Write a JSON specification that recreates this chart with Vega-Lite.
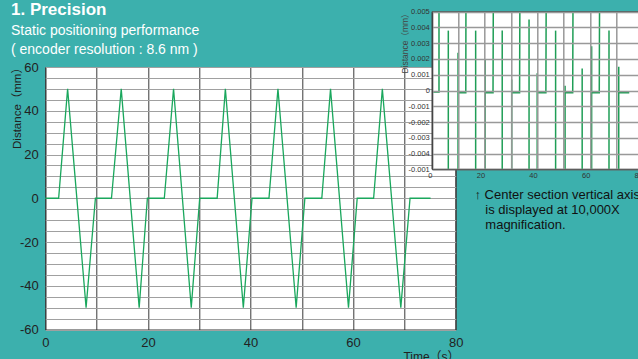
{
  "$schema": "https://vega.github.io/schema/vega-lite/v6.json",
  "width": 410.4,
  "height": 262.5,
  "autosize": "none",
  "padding": {"left": 45.3, "top": 67, "right": 182.3, "bottom": 29.5},
  "background": "#3cb0ad",
  "config": {
    "view": {"fill": "white", "stroke": "#333", "strokeWidth": 1},
    "font": "Liberation Sans, Noto Sans CJK JP, sans-serif"
  },
  "title": {
    "text": "1. Precision",
    "subtitle": ["Static positioning performance", "( encoder resolution : 8.6 nm )"],
    "anchor": "start",
    "frame": "group",
    "dx": -34.3,
    "dy": 50,
    "fontSize": 17,
    "fontWeight": "bold",
    "color": "white",
    "subtitleColor": "white",
    "subtitleFontSize": 14,
    "subtitleLineHeight": 18.5,
    "subtitlePadding": 5,
    "offset": 0
  },
  "datasets": {
    "main": [
      {"t": 0, "d": 0}, {"t": 2.6, "d": 0}, {"t": 4.35, "d": 50}, {"t": 7.95, "d": -50}, {"t": 9.77, "d": 0},
      {"t": 12.9, "d": 0}, {"t": 14.8, "d": 50}, {"t": 18.3, "d": -50}, {"t": 19.9, "d": 0},
      {"t": 23.2, "d": 0}, {"t": 25.0, "d": 50}, {"t": 28.45, "d": -50}, {"t": 30.1, "d": 0},
      {"t": 33.5, "d": 0}, {"t": 35.1, "d": 50}, {"t": 38.6, "d": -50}, {"t": 40.3, "d": 0},
      {"t": 43.6, "d": 0}, {"t": 45.35, "d": 50}, {"t": 48.9, "d": -50}, {"t": 50.6, "d": 0},
      {"t": 53.9, "d": 0}, {"t": 55.6, "d": 50}, {"t": 59.1, "d": -50}, {"t": 60.8, "d": 0},
      {"t": 64.0, "d": 0}, {"t": 65.7, "d": 50}, {"t": 69.3, "d": -50}, {"t": 71.1, "d": 0},
      {"t": 75.1, "d": 0}
    ],
    "inset": [
      {"i": 1, "seg": "a", "t": 0, "v": -0.0001}, {"i": 2, "seg": "a", "t": 2.66, "v": -0.0001}, {"i": 3, "seg": "a", "t": 2.66, "v": 0.005},
      {"i": 4, "seg": "b", "t": 6.2, "v": 0.0038}, {"i": 5, "seg": "b", "t": 6.2, "v": -0.005},
      {"i": 6, "seg": "c", "t": 9.9, "v": -0.005}, {"i": 7, "seg": "c", "t": 9.9, "v": 0.0024}, {"i": 8, "seg": "c", "t": 9.9, "v": -0.00015}, {"i": 9, "seg": "c", "t": 12.85, "v": -0.00015}, {"i": 10, "seg": "c", "t": 12.9, "v": 0.005},
      {"i": 11, "seg": "d", "t": 16.6, "v": 0.0038}, {"i": 12, "seg": "d", "t": 16.6, "v": -0.005},
      {"i": 13, "seg": "e", "t": 20.2, "v": -0.005}, {"i": 14, "seg": "e", "t": 20.2, "v": 0.002}, {"i": 15, "seg": "e", "t": 20.2, "v": -0.00015}, {"i": 16, "seg": "e", "t": 23.2, "v": -0.00015}, {"i": 17, "seg": "e", "t": 23.3, "v": 0.005},
      {"i": 18, "seg": "f", "t": 26.7, "v": 0.0038}, {"i": 19, "seg": "f", "t": 26.7, "v": -0.005},
      {"i": 20, "seg": "g", "t": 30.3, "v": -0.005}, {"i": 21, "seg": "g", "t": 30.3, "v": 0.0007}, {"i": 22, "seg": "g", "t": 30.3, "v": -0.00015}, {"i": 23, "seg": "g", "t": 33.3, "v": -0.00015}, {"i": 24, "seg": "g", "t": 33.4, "v": 0.005},
      {"i": 25, "seg": "h", "t": 36.9, "v": 0.0045}, {"i": 26, "seg": "h", "t": 36.9, "v": -0.005},
      {"i": 27, "seg": "i", "t": 40.0, "v": -0.005}, {"i": 28, "seg": "i", "t": 40.0, "v": 0.0011}, {"i": 29, "seg": "i", "t": 40.0, "v": -0.00015}, {"i": 30, "seg": "i", "t": 43.3, "v": -0.00015}, {"i": 31, "seg": "i", "t": 43.4, "v": 0.005},
      {"i": 32, "seg": "j", "t": 47.0, "v": 0.0038}, {"i": 33, "seg": "j", "t": 47.0, "v": -0.005},
      {"i": 34, "seg": "k", "t": 50.6, "v": -0.005}, {"i": 35, "seg": "k", "t": 50.6, "v": 0.0003}, {"i": 36, "seg": "k", "t": 50.6, "v": -0.00015}, {"i": 37, "seg": "k", "t": 53.5, "v": -0.00015}, {"i": 38, "seg": "k", "t": 53.6, "v": 0.005},
      {"i": 39, "seg": "l", "t": 57.1, "v": 0.0014}, {"i": 40, "seg": "l", "t": 57.1, "v": -0.005},
      {"i": 41, "seg": "m", "t": 60.7, "v": -0.005}, {"i": 42, "seg": "m", "t": 60.7, "v": 0.0028}, {"i": 43, "seg": "m", "t": 60.7, "v": -0.00015}, {"i": 44, "seg": "m", "t": 63.6, "v": -0.00015}, {"i": 45, "seg": "m", "t": 63.7, "v": 0.005},
      {"i": 46, "seg": "n", "t": 67.3, "v": 0.0038}, {"i": 47, "seg": "n", "t": 67.3, "v": -0.005},
      {"i": 48, "seg": "o", "t": 71.0, "v": -0.005}, {"i": 49, "seg": "o", "t": 71.0, "v": 0.0015}, {"i": 50, "seg": "o", "t": 71.0, "v": -0.00015}, {"i": 51, "seg": "o", "t": 75.0, "v": -0.00015}
    ]
  },
  "layer": [
    {
      "data": {"name": "main"},
      "mark": {"type": "line", "color": "#1aa75d", "strokeWidth": 1.3},
      "encoding": {
        "x": {
          "field": "t", "type": "quantitative",
          "scale": {"domain": [0, 80], "range": [0, 410.4], "nice": false, "zero": false},
          "axis": {
            "orient": "bottom",
            "values": [0, 10, 20, 30, 40, 50, 60, 70, 80],
            "labelExpr": "datum.value % 20 == 0 ? datum.label : ''",
            "labelFlush": false, "labelOverlap": false,
            "grid": true, "gridColor": "#3a3a3a", "gridOpacity": 1, "gridWidth": 1,
            "domain": false, "ticks": false,
            "labelFontSize": 13, "labelColor": "#222", "labelPadding": 7,
            "title": "Time（s）", "titleX": 385.7, "titleY": 31,
            "titleBaseline": "alphabetic", "titleAlign": "center",
            "titleFontSize": 12, "titleFontWeight": "normal", "titleColor": "#222",
            "zindex": 0
          }
        },
        "y": {
          "field": "d", "type": "quantitative",
          "scale": {"domain": [-60, 60], "nice": false, "zero": false},
          "axis": {
            "orient": "left",
            "values": [-60, -55, -50, -45, -40, -35, -30, -25, -20, -15, -10, -5, 0, 5, 10, 15, 20, 25, 30, 35, 40, 45, 50, 55, 60],
            "labelExpr": "datum.value % 20 == 0 ? (datum.value < 0 ? '-' + abs(datum.value) : '' + datum.value) : ''",
            "labelOverlap": false, "labelFlush": false,
            "grid": true, "gridColor": "#a0a0a0", "gridOpacity": 1, "gridWidth": 1.2,
            "domain": false, "ticks": false,
            "labelFontSize": 13, "labelColor": "#222", "labelPadding": 7,
            "title": "Distance（mm）", "titleX": -27.6, "titleY": 38, "titleAngle": -90,
            "titleAlign": "center", "titleBaseline": "middle",
            "titleFontSize": 11.5, "titleFontWeight": "normal", "titleColor": "#222",
            "zindex": 0
          }
        }
      }
    },
    {
      "data": {"values": [{}]},
      "mark": {"type": "rect", "fill": "white", "stroke": "#444", "strokeWidth": 1},
      "encoding": {
        "x": {
          "datum": 0, "type": "quantitative",
          "scale": {"domain": [0, 80], "range": [386.7, 597.1], "nice": false, "zero": false},
          "axis": {
            "orient": "bottom",
            "offset": -160.2,
            "values": [0, 10, 20, 30, 40, 50, 60, 70, 80],
            "labelExpr": "datum.value % 20 == 0 ? datum.label : ''",
            "labelAlign": "right", "labelFlush": false, "labelOverlap": false,
            "labelFontSize": 7.5, "labelColor": "#333", "labelPadding": 2,
            "grid": false,
            "domain": true, "domainColor": "#444", "ticks": false,
            "title": ["↑ Center section vertical axis", "\u200b\u00a0\u00a0\u00a0is displayed at 10,000X", "\u200b\u00a0\u00a0\u00a0magnification."],
            "titleX": 428.7, "titleY": 29, "titleAlign": "left", "titleBaseline": "alphabetic", "titleAngle": 0,
            "titleFontSize": 13, "titleFontWeight": "normal", "titleColor": "#111", "titleLineHeight": 15.2,
            "zindex": 1
          }
        },
        "x2": {"datum": 80},
        "y": {
          "datum": -0.005, "type": "quantitative",
          "scale": {"domain": [-0.005, 0.005], "range": [102.3, -55.3], "nice": false, "zero": false},
          "axis": {
            "orient": "left",
            "offset": -386.7,
            "values": [-0.005, -0.004, -0.003, -0.002, -0.001, 0, 0.001, 0.002, 0.003, 0.004, 0.005],
            "labelExpr": "datum.value < -0.0045 ? '-0.001' : (abs(datum.value) < 0.00001 ? '0' : (datum.value < 0 ? '-' : '') + format(abs(datum.value), '.3f'))",
            "labelOverlap": false, "labelFlush": false,
            "labelFontSize": 7.5, "labelColor": "#333", "labelPadding": 2.7,
            "grid": true, "gridColor": "#999", "gridOpacity": 1, "gridWidth": 1.5,
            "domain": true, "domainColor": "#444", "ticks": false,
            "title": "Distance（mm）", "titleX": -28, "titleY": -26, "titleAngle": -90,
            "titleAlign": "center", "titleBaseline": "middle",
            "titleFontSize": 8.5, "titleFontWeight": "normal", "titleColor": "#444",
            "zindex": 1
          }
        },
        "y2": {"datum": 0.005}
      }
    },
    {
      "data": {"name": "inset"},
      "mark": {"type": "line", "color": "#1f9e56", "strokeWidth": 1.5},
      "encoding": {
        "x": {
          "field": "t", "type": "quantitative",
          "scale": {"domain": [0, 80], "range": [386.7, 597.1], "nice": false, "zero": false},
          "axis": {
            "orient": "top",
            "offset": 55.3,
            "values": [0, 10, 20, 30, 40, 50, 60, 70, 80],
            "labels": false, "domain": false, "ticks": false, "title": null,
            "grid": true, "gridColor": "#999", "gridOpacity": 1, "gridWidth": 1.5,
            "zindex": 1
          }
        },
        "y": {
          "field": "v", "type": "quantitative",
          "scale": {"domain": [-0.005, 0.005], "range": [102.3, -55.3], "nice": false, "zero": false},
          "axis": null
        },
        "detail": {"field": "seg", "type": "nominal"},
        "order": {"field": "i", "type": "quantitative"}
      }
    }
  ],
  "resolve": {"scale": {"x": "independent", "y": "independent"}, "axis": {"x": "independent", "y": "independent"}}
}
